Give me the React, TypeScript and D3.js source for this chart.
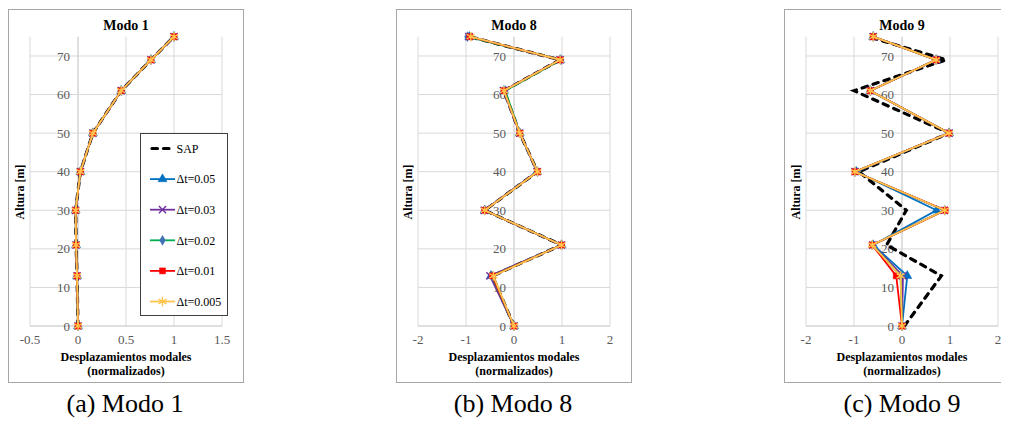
import * as d3 from "d3";
import { useRef, useEffect } from "react";

// alturas de los pisos [m]
const heights = [0, 13, 21, 30, 40, 50, 61, 69, 75];
const yTicks = [0, 10, 20, 30, 40, 50, 60, 70];

const seriesNames = ["SAP", "Δt=0.05", "Δt=0.03", "Δt=0.02", "Δt=0.01", "Δt=0.005"];

// Modo 1
const m1Sap = [0, -0.01, -0.02, -0.025, 0.025, 0.155, 0.45, 0.76, 1.0];
const m1Dt05 = [0, -0.01, -0.02, -0.025, 0.025, 0.155, 0.45, 0.76, 1.0];
const m1Dt03 = [0, -0.01, -0.02, -0.025, 0.025, 0.155, 0.45, 0.76, 1.0];
const m1Dt02 = [0, -0.01, -0.02, -0.025, 0.025, 0.155, 0.45, 0.76, 1.0];
const m1Dt01 = [0, -0.01, -0.02, -0.025, 0.025, 0.155, 0.45, 0.76, 1.0];
const m1Dt005 = [0, -0.01, -0.02, -0.025, 0.025, 0.155, 0.45, 0.76, 1.0];

// Modo 8
const m8Sap = [0, -0.45, 0.99, -0.61, 0.49, 0.12, -0.21, 0.96, -0.93];
const m8Dt05 = [0, -0.48, 0.99, -0.61, 0.48, 0.12, -0.21, 0.96, -0.93];
const m8Dt03 = [0, -0.5, 0.99, -0.62, 0.48, 0.12, -0.22, 0.96, -0.94];
const m8Dt02 = [0, -0.46, 0.99, -0.61, 0.49, 0.12, -0.18, 0.98, -0.97];
const m8Dt01 = [0, -0.45, 0.99, -0.61, 0.49, 0.12, -0.21, 0.96, -0.92];
const m8Dt005 = [0, -0.43, 0.99, -0.61, 0.49, 0.12, -0.21, 0.96, -0.9];

// Modo 9
const m9Sap = [0.05, 0.82, -0.32, 0.09, -0.9, 0.98, -1.0, 0.92, -0.7];
const m9Dt05 = [0, 0.11, -0.6, 0.72, -0.95, 0.98, -0.66, 0.71, -0.6];
const m9Dt03 = [0, 0.02, -0.61, 0.88, -0.98, 0.98, -0.66, 0.71, -0.6];
const m9Dt02 = [0, -0.03, -0.62, 0.89, -0.98, 0.98, -0.66, 0.71, -0.6];
const m9Dt01 = [0, -0.12, -0.62, 0.9, -0.98, 0.98, -0.66, 0.71, -0.6];
const m9Dt005 = [0, -0.03, -0.62, 0.89, -0.98, 0.98, -0.66, 0.71, -0.6];

const styles = [
  { color: "#000", marker: null, fill: "none" },
  { color: "#0070C0", marker: d3.symbolTriangle, size: 36, fill: "#0070C0" },
  { color: "#7030A0", marker: d3.symbolTimes, size: 36, fill: "none" },
  { color: "#00B050", marker: d3.symbolDiamond, size: 28, fill: "#3F6FB5" },
  { color: "#FF0000", marker: d3.symbolSquare, size: 36, fill: "#FF0000" },
  { color: "#FFC44D", marker: d3.symbolAsterisk, size: 60, fill: "none" },
];

const FONT = "Liberation Serif";

function Panel({ left, title, xDomain, xTicks, series, legend }) {
  const plotLeft = left + 22;
  const plotW = 192;
  const x = d3.scaleLinear(xDomain, [plotLeft, plotLeft + plotW]);
  const y = d3.scaleLinear([0, 75], [326, 36.7]);
  const line = d3.line<number>((d) => x(d), (d, i) => y(heights[i]));
  const cx = (x(xDomain[0]) + x(xDomain[1])) / 2;
  return (
    <g>
      <rect x={left + 0.5} y={9.5} width={235} height={373} fill="#fff" stroke="#A6A6A6" />
      {xTicks.map((t) => (
        <line key={"gx" + t} x1={x(t)} x2={x(t)} y1={y(75)} y2={y(0)}
          stroke={t === 0 ? "#BFBFBF" : "#D9D9D9"} strokeWidth={1} />
      ))}
      {yTicks.map((t) => (
        <line key={"gy" + t} x1={x(xDomain[0])} x2={x(xDomain[1])} y1={y(t)} y2={y(t)}
          stroke={t === 0 ? "#BFBFBF" : "#D9D9D9"} strokeWidth={1} />
      ))}
      {yTicks.map((t) => (
        <text key={"ly" + t} x={x(0) - 8} y={y(t)} dy="0.35em" textAnchor="end"
          fontSize={13} fill="#595959">{t}</text>
      ))}
      {xTicks.map((t) => (
        <text key={"lx" + t} x={x(t)} y={y(0) + 18} textAnchor="middle"
          fontSize={13} fill="#595959">{String(t)}</text>
      ))}
      <text x={cx} y={30} textAnchor="middle" fontSize={14} fontWeight="bold" fill="#000">{title}</text>
      <text x={cx} y={361} textAnchor="middle" fontSize={12} fontWeight="bold" fill="#000">Desplazamientos modales</text>
      <text x={cx} y={375} textAnchor="middle" fontSize={12} fontWeight="bold" fill="#000">(normalizados)</text>
      <text transform={`translate(${left + 16},192) rotate(-90)`} textAnchor="middle" fontSize={12}
        fontWeight="bold" fill="#000">Altura [m]</text>
      {series.map((vals, si) => {
        const st = styles[si];
        return (
          <g key={si}>
            <path d={line(vals)} fill="none" stroke={st.color}
              strokeWidth={si === 0 ? 3.2 : 1.8}
              strokeDasharray={si === 0 ? "5.5 6" : undefined}
              strokeLinecap={si === 0 ? "round" : "butt"} />
            {st.marker && vals.map((v, i) => (
              <path key={i} d={d3.symbol(st.marker, st.size)()}
                transform={`translate(${x(v)},${y(heights[i])})`}
                fill={st.fill} stroke={st.fill === "none" ? st.color : st.fill}
                strokeWidth={st.fill === "none" ? 1.4 : 0.5} />
            ))}
          </g>
        );
      })}
      {legend && (
        <g>
          <rect x={140.5} y={133.5} width={87} height={182} fill="#fff" stroke="#404040" strokeWidth={1} />
          {seriesNames.map((name, si) => {
            const st = styles[si];
            const ly = 148.5 + si * 30.6;
            return (
              <g key={name}>
                <line x1={si === 0 ? 152 : 150} x2={si === 0 ? 173 : 175} y1={ly} y2={ly}
                  stroke={st.color} strokeWidth={si === 0 ? 3.2 : 1.8}
                  strokeDasharray={si === 0 ? "5.5 6" : undefined}
                  strokeLinecap={si === 0 ? "round" : "butt"} />
                {st.marker && (
                  <path d={d3.symbol(st.marker, st.size)()} transform={`translate(162.5,${ly})`}
                    fill={st.fill} stroke={st.fill === "none" ? st.color : st.fill}
                    strokeWidth={st.fill === "none" ? 1.4 : 0.5} />
                )}
                <text x={176.5} y={ly} dy="0.35em" fontSize={12} fill="#000">{name}</text>
              </g>
            );
          })}
        </g>
      )}
    </g>
  );
}

export default function App() {
  const svgRef = useRef(null);
  // fuente serif en todos los textos
  useEffect(() => {
    d3.select(svgRef.current).selectAll("text")
      .attr("font-family", FONT)
      .style("font-family", FONT);
  }, []);
  return (
    <svg ref={svgRef} width={1009} height={430} fontFamily={FONT}
      style={{ display: "block", margin: "-8px", background: "#fff", fontFamily: FONT }}>
      <Panel left={8} title="Modo 1" xDomain={[-0.5, 1.5]} xTicks={[-0.5, 0, 0.5, 1, 1.5]}
        series={[m1Sap, m1Dt05, m1Dt03, m1Dt02, m1Dt01, m1Dt005]} legend />
      <Panel left={396} title="Modo 8" xDomain={[-2, 2]} xTicks={[-2, -1, 0, 1, 2]}
        series={[m8Sap, m8Dt05, m8Dt03, m8Dt02, m8Dt01, m8Dt005]} legend={false} />
      <Panel left={784} title="Modo 9" xDomain={[-2, 2]} xTicks={[-2, -1, 0, 1, 2]}
        series={[m9Sap, m9Dt05, m9Dt03, m9Dt02, m9Dt01, m9Dt005]} legend={false} />
      <text x={125} y={412} textAnchor="middle" fontSize={26}>(a) Modo 1</text>
      <text x={513} y={412} textAnchor="middle" fontSize={26}>(b) Modo 8</text>
      <text x={902} y={412} textAnchor="middle" fontSize={26}>(c) Modo 9</text>
    </svg>
  );
}
